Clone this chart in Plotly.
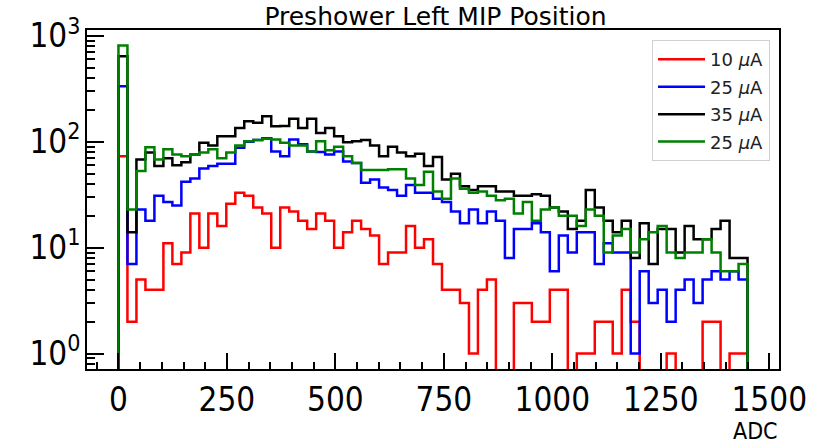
import numpy as np
import plotly.graph_objects as go

# ---- data -------------------------------------------------------------
adc_min, adc_max, n_bins = 0, 1450, 70

counts_10uA = [73, 2, 5, 4, 4, 11, 7, 9, 21, 10,
               21, 16, 26, 33, 31, 24, 21, 10, 24, 22,
               18, 15, 21, 18, 10, 14, 18, 15, 13, 7,
               9, 9, 16, 10, 12, 7, 4, 4, 3, 1,
               4, 5, 0, 0, 3, 3, 2, 2, 4, 4,
               0, 1, 1, 2, 2, 1, 4, 2, 0, 0,
               0, 1, 0, 0, 0, 2, 2, 0, 1, 1]

counts_25uA = [335, 7, 23, 18, 31, 27, 25, 42, 45, 56,
               59, 62, 62, 88, 100, 104, 108, 81, 73, 105,
               95, 81, 80, 76, 81, 65, 63, 41, 44, 37,
               35, 31, 39, 33, 33, 29, 27, 22, 17, 23,
               17, 22, 18, 8, 15, 15, 17, 14, 6, 13,
               9, 14, 14, 7, 11, 9, 9, 1, 6, 3,
               4, 2, 4, 5, 3, 5, 6, 5, 6, 5]

counts_35uA = [643, 14, 68, 79, 59, 70, 60, 64, 76, 98,
               92, 113, 113, 135, 156, 151, 174, 140, 141, 165,
               135, 165, 121, 135, 113, 99, 101, 104, 92, 73,
               90, 79, 73, 77, 59, 72, 44, 50, 38, 35,
               38, 38, 34, 34, 31, 31, 32, 31, 24, 22,
               15, 18, 35, 24, 18, 14, 18, 8, 17, 7,
               15, 15, 9, 16, 12, 12, 15, 18, 8, 8]

counts_25uA_b = [813, 23, 53, 89, 68, 85, 76, 73, 76, 79,
                 85, 70, 79, 92, 101, 104, 107, 105, 98, 92,
                 92, 81, 101, 83, 90, 73, 63, 54, 54, 54,
                 55, 55, 45, 39, 52, 34, 29, 45, 36, 33,
                 34, 31, 28, 29, 21, 27, 18, 23, 24, 20,
                 20, 16, 23, 20, 9, 13, 15, 9, 12, 14,
                 16, 9, 8, 9, 9, 12, 9, 6, 6, 7]

series_names = ["10 <i>μ</i>A", "25 <i>μ</i>A", "35 <i>μ</i>A", "25 <i>μ</i>A"]
series_colors = ["#ff0000", "#0000ff", "#000000", "#008000"]
series_counts = [counts_10uA, counts_25uA, counts_35uA, counts_25uA_b]

x_ticks = [0, 250, 500, 750, 1000, 1250, 1500]
y_ticks = [1, 10, 100, 1000]
y_ticktext = ["10<sup>0</sup>", "10<sup>1</sup>", "10<sup>2</sup>", "10<sup>3</sup>"]

# ---- figure -----------------------------------------------------------
edges = np.linspace(adc_min, adc_max, n_bins + 1)
floor = 1e-3  # empty bins drop below the visible log range

fig = go.Figure()
for i, (name, color, cnt) in enumerate(zip(series_names, series_colors, series_counts)):
    c = np.array(cnt, dtype=float)
    c[c <= 0] = floor
    xs = np.concatenate([[edges[0]], edges[:-1], [edges[-1]]])
    ys = np.concatenate([[floor], c, [floor]])
    fig.add_trace(go.Scatter(
        x=xs, y=ys, mode="lines", name=name,
        line=dict(color=color, width=2.5, shape="hv"),
        legendgroup=f"g{i}",
    ))

cond = "DejaVu Sans Condensed, Liberation Sans Narrow, DejaVu Sans"
tick_font = dict(family=cond, size=33, color="black")

minor_y = [m * 10 ** d for d in range(-1, 4) for m in range(2, 10)]

fig.update_layout(
    width=819, height=443,
    margin=dict(l=87, r=35, t=30, b=74),
    plot_bgcolor="white", paper_bgcolor="white",
    title=dict(text="Preshower Left MIP Position", x=(87 + 784) / 2 / 819, xanchor="center",
               xref="container", yref="container", y=1 - 16 / 443, yanchor="middle",
               font=dict(family="DejaVu Sans", size=25, color="black")),
    showlegend=True,
    legend=dict(x=0.987, y=0.97, xanchor="right", yanchor="top",
                bgcolor="rgba(255,255,255,0.8)", bordercolor="#d0d0d0", borderwidth=1,
                font=dict(family="DejaVu Sans", size=18, color="#222222"),
                tracegroupgap=1, itemwidth=47),
    xaxis=dict(range=[-72.5, 1522.5], tickmode="array", tickvals=x_ticks,
               ticks="inside", ticklen=16, tickwidth=2, tickcolor="black",
               showline=True, linecolor="black", linewidth=2, mirror=True,
               showgrid=False, zeroline=False, tickfont=tick_font,
               ticklabelstandoff=0,
               minor=dict(ticks="inside", ticklen=7, tickwidth=1.5, tickcolor="black",
                          dtick=50, showgrid=False)),
    yaxis=dict(type="log", range=[-0.1455, 3.0555], tickmode="array",
               tickvals=y_ticks, ticktext=y_ticktext,
               ticks="inside", ticklen=17, tickwidth=2, tickcolor="black",
               showline=True, linecolor="black", linewidth=2, mirror=True,
               showgrid=False, zeroline=False, tickfont=tick_font,
               ticklabelstandoff=-2,
               minor=dict(ticks="inside", ticklen=8, tickwidth=1.5, tickcolor="black",
                          tickmode="array", tickvals=minor_y, showgrid=False)),
    annotations=[dict(text="ADC", xref="paper", yref="paper", x=1.002, y=-0.14,
                      xanchor="right", yanchor="top", showarrow=False,
                      font=dict(family=cond, size=23, color="black"))],
)

fig.write_html("out.html")
